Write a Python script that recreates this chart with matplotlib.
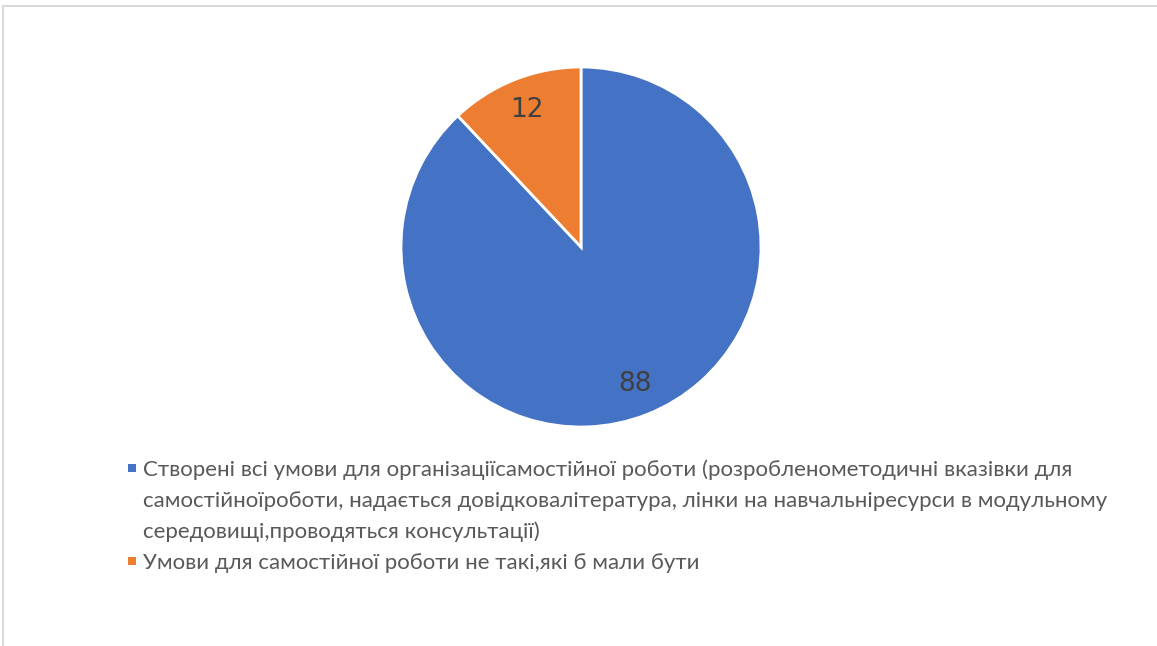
# LIBRARIES

import matplotlib
matplotlib.use("Agg")
import matplotlib.pyplot as plt
from matplotlib.patches import Rectangle


# DATA

values = [88, 12]
colors = ["#4472C4", "#ED7D31"]
labels = [
    "Створені всі умови для організаціїсамостійної роботи (розробленометодичні вказівки для\n"
    "самостійноїроботи, надається довідковалітература, лінки на навчальніресурси в модульному\n"
    "середовищі,проводяться консультації)",
    "Умови для самостійної роботи не такі,які б мали бути",
]


# FIGURE

W, H = 1157, 646
fig = plt.figure(figsize=(W / 100, H / 100), dpi=100)
fig.patch.set_facecolor("white")

# chart border (right and bottom edges fall outside the image)
fig.add_artist(Rectangle((2.5 / W, -0.1), 1.2, (H - 6) / H + 0.1,
                         transform=fig.transFigure, fill=False,
                         edgecolor="#D9D9D9", linewidth=1.5))

# pie: centre (581, 247) px, radius 180 px
ax = fig.add_axes([401 / W, (H - 427) / H, 360 / W, 360 / H])
wedges, texts, autotexts = ax.pie(
    values, colors=colors, startangle=90, counterclock=False,
    autopct=lambda p: f"{p * sum(values) / 100:.0f}", pctdistance=0.82,
    wedgeprops=dict(edgecolor="white", linewidth=2),
    textprops=dict(color="#404040", fontsize=19, family="DejaVu Sans"),
)
ax.set_xlim(-1, 1)
ax.set_ylim(-1, 1)
ax.set_aspect("equal")
ax.axis("off")


# LEGEND (drawn by hand to follow the wrapped layout)

legend_font = ["Lato", "DejaVu Sans"]
line_h = 31
y = 468
for lab, col in zip(labels, colors):
    fig.add_artist(Rectangle((128 / W, (H - y - 4) / H), 8 / W, 8 / H,
                             transform=fig.transFigure, facecolor=col,
                             edgecolor="none"))
    for line in lab.split("\n"):
        fig.text(143 / W, (H - y) / H, line, transform=fig.transFigure,
                 ha="left", va="center_baseline", fontsize=16,
                 family=legend_font, color="#595959")
        y += line_h

fig.savefig("out.png", dpi=100, facecolor="white")
